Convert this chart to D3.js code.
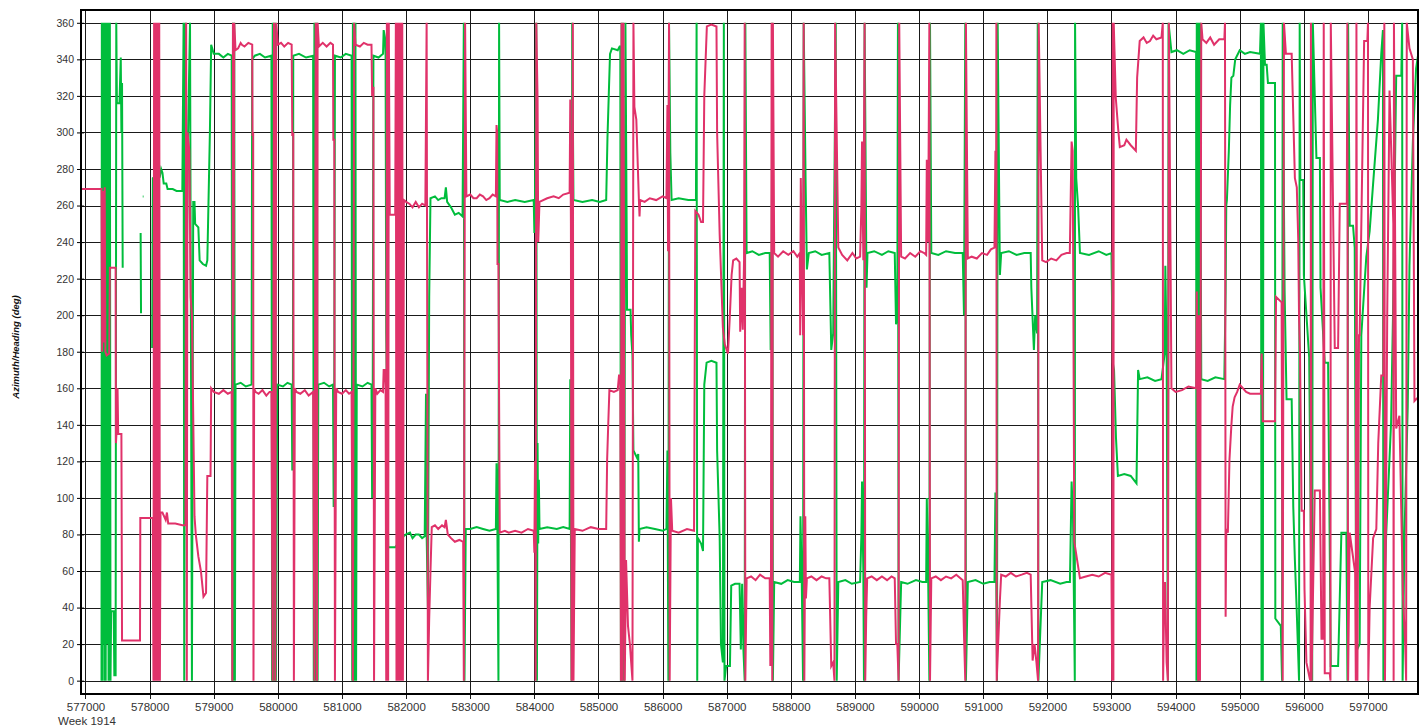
<!DOCTYPE html>
<html>
<head>
<meta charset="utf-8">
<script src="https://cdn.jsdelivr.net/npm/d3@7"></script>
<style>
  html, body { margin: 0; padding: 0; background: #ffffff; }
  svg { display: block; }
  text { font-family: "Liberation Sans", Arial, sans-serif; }
</style>
</head>
<body>
<svg id="chart" width="1426" height="728"></svg>
<script>
// ---------------- DATA ----------------
const xTicks = [577000,578000,579000,580000,581000,582000,583000,584000,585000,586000,587000,588000,589000,590000,591000,592000,593000,594000,595000,596000,597000];
const yTicks = [0,20,40,60,80,100,120,140,160,180,200,220,240,260,280,300,320,340,360];
const xLabelExtra = "Week 1914";
const yTitle = "Azimuth/Heading (deg)";

// Green series [time, deg]; null = no data
const greenSeries = [
[577250,0],[577255,360],[577265,0],[577270,360],[577280,20],[577290,360],[577300,0],[577310,360],[577315,0],[577330,360],[577340,20],[577350,360],[577360,0],[577370,40],[577380,360],[577390,0],[577400,38],[577440,38],[577450,3],[577470,3],[577480,360],[577490,316],[577530,316],[577550,341],[577560,300],[577570,327],[577580,226],
[577600,null],
[577860,245],[577866,201],[577870,null],
[577893,265],[577905,265],[577910,null],
[578040,182],[578050,275],[578120,277],[578160,276],[578180,280],[578200,278],[578220,272],[578260,272],[578280,269],[578360,269],[578420,268],[578510,268],
[578530,360],[578540,0],[578550,200],[578560,360],[578575,210],[578600,300],[578630,360],[578660,0],[578680,262],[578700,262],[578710,250],[578760,248],[578780,230],[578830,228],[578880,227],[578900,230],[578940,300],[578960,348],[579000,343],
[579080,343],[579150,341],[579220,343],[579280,342],[579290,0],[579300,360],[579310,0],[579320,360],[579330,0],[579340,162],[579420,163],[579500,161],[579590,162],[579600,340],[579640,342],
[579720,343],[579800,341],[579900,342],[579910,0],[579920,360],[579930,0],[579940,360],[579950,0],[579960,360],[579970,0],[579990,162],
[580080,161],[580150,163],[580215,162],[580225,115],[580235,162],[580240,342],[580330,343],[580440,341],[580550,342],
[580560,0],[580570,360],[580580,0],[580590,360],[580600,0],[580610,360],[580620,0],[580630,162],
[580720,163],[580800,161],[580860,162],[580870,95],[580880,162],[580890,342],[580980,341],[581060,343],[581150,342],
[581160,0],[581170,360],[581180,0],[581190,360],[581200,0],[581210,360],[581220,0],[581230,162],
[581320,161],[581400,163],[581460,162],[581470,100],[581480,162],[581490,342],[581570,341],[581640,343],[581650,356],[581670,352],[581680,342],[581690,190],[581700,160],[581720,73],[581830,73],
[581960,79],[582000,80],[582060,81],[582100,78],[582150,80],[582200,80],[582250,78],[582290,79],[582310,157],[582320,80],[582340,40],[582360,210],[582380,264],[582450,265],[582500,263],[582550,264],[582600,264],[582620,270],[582640,262],[582700,259],[582760,255],[582820,256],[582880,254],[582900,360],[582910,0],[582930,83],
[583000,83],[583100,84],[583200,83],[583300,82],[583400,83],[583410,119],[583420,100],[583440,0],[583450,360],[583460,263],
[583580,262],[583700,263],[583850,262],[583990,263],[584000,245],[584010,263],[584030,360],[584040,0],[584050,130],[584060,75],[584070,110],[584080,83],[584200,84],[584350,83],[584450,84],[584550,83],[584560,165],[584570,83],[584580,0],[584590,360],[584610,263],
[584750,262],[584900,263],[585020,262],[585120,263],[585140,297],[585160,320],[585180,343],[585210,346],[585300,345],[585330,347],[585340,347],[585350,0],[585360,360],[585370,0],[585380,360],[585400,0],[585420,360],[585440,244],[585445,203],[585500,203],[585510,189],[585530,178],[585545,126],[585600,122],[585620,124],[585630,76],[585640,83],
[585750,84],[585880,83],[586000,82],[586060,83],[586075,126],[586090,0],[586100,360],[586120,289],[586140,263],[586250,264],[586400,263],[586520,263],[586530,360],[586540,0],[586550,78],[586600,75],[586630,71],[586650,162],[586686,174],[586760,175],[586840,174],[586850,126],[586890,78],[586910,20],[586940,10],[586955,360],[586965,0],[586990,8],
[587050,8],[587070,52],[587130,53],[587200,53],[587220,17],[587240,53],[587260,17],[587280,0],[587290,360],[587310,234],
[587400,235],[587500,233],[587600,234],[587670,234],[587685,181],[587700,200],[587710,360],[587720,0],[587740,54],
[587850,53],[587950,55],[588050,54],[588140,54],[588150,90],[588170,54],[588190,0],[588200,360],[588230,273],[588250,225],[588280,234],
[588380,235],[588480,233],[588600,234],[588630,181],[588660,190],[588700,360],[588715,0],[588740,54],
[588850,55],[588950,53],[589080,54],[589100,80],[589110,109],[589130,60],[589140,0],[589150,360],[589180,215],[589195,234],
[589300,235],[589420,233],[589520,235],[589620,234],[589640,195],[589660,200],[589670,360],[589680,0],[589720,54],
[589820,53],[589950,55],[590050,54],[590110,54],[590120,100],[590140,60],[590160,0],[590170,360],[590190,234],
[590300,233],[590420,235],[590560,234],[590680,234],[590700,200],[590720,360],[590730,0],[590760,54],
[590880,55],[591000,53],[591100,54],[591175,54],[591190,103],[591200,70],[591215,0],[591225,360],[591260,222],[591280,234],
[591400,235],[591520,233],[591640,234],[591740,234],[591750,215],[591790,181],[591810,200],[591840,190],[591850,360],[591860,0],[591920,54],
[592050,55],[592200,53],[592300,54],[592352,54],[592378,109],[592400,90],[592428,0],[592432,360],[592450,275],[592480,259],[592508,234],
[592650,233],[592800,235],[592920,233],[593000,234],[593020,174],[593040,170],[593070,133],[593100,112],[593200,113],[593300,112],[593390,108],[593415,170],[593440,165],[593560,166],[593680,164],[593780,165],[593830,179],[593840,227],[593860,180],[593880,0],[593890,360],[593935,344],
[594020,345],[594120,343],[594220,345],[594320,344],[594325,0],[594330,360],[594335,0],[594340,360],[594345,0],[594350,360],[594360,0],[594380,360],[594400,165],[594500,164],[594620,166],[594760,165],[594780,213],[594790,260],[594800,263],[594830,290],[594850,315],[594870,330],[594900,331],[594930,340],[595000,345],
[595080,343],[595161,344],[595316,343],[595330,360],[595340,0],[595350,360],[595360,0],[595370,360],[595394,337],[595420,337],[595440,327],[595550,327],[595555,34],[595640,30],[595660,0],[595670,360],[595690,259],[595700,213],[595730,154],[595810,154],[595835,95],[595860,66],[595885,42],[595910,16],[595925,0],[595935,360],[595945,274],[595990,274],[596000,222],[596083,177],
[596130,0],[596140,360],[596196,286],[596250,286],[596260,215],[596326,174],[596378,174],[596420,8],[596534,8],[596585,81],[596663,81],[596680,0],[596690,360],[596715,249],[596767,249],[596793,237],[596818,16],[596870,20],[596896,189],[596948,218],[596974,232],[597026,246],[597078,271],[597155,307],[597207,343],[597233,356],[597240,0],[597260,54],[597285,81],[597360,141],[597390,200],[597440,331],[597520,331],[597533,360],[597540,0],[597570,81],[597620,150],[597647,227],[597700,295],[597750,335],[597780,342]
];

// Red series [time, deg]
const redSeries = [
[576930,269],[577250,269],[577260,180],[577270,268],[577280,185],[577300,270],[577310,180],[577330,178],[577370,179],[577380,226],[577470,226],[577475,130],[577490,140],[577500,160],[577510,135],[577560,135],[577570,22],[577850,22],[577855,89],[578050,89],
[578060,0],[578070,360],[578080,0],[578090,360],[578100,0],[578110,360],[578120,0],[578130,360],[578140,0],[578150,360],[578160,0],[578170,92],
[578200,92],[578250,88],[578270,92],[578290,86],[578400,86],[578510,85],
[578560,85],[578570,360],[578580,0],[578590,300],[578620,290],[578640,210],[578660,200],[578700,90],[578720,80],[578760,68],[578800,60],[578840,46],[578880,48],[578900,112],[578950,112],[578960,160],[579000,158],
[579080,157],[579150,159],[579220,157],[579280,158],[579290,0],[579300,360],[579310,200],[579320,360],[579340,345],[579380,346],[579420,349],[579440,348],[579480,347],[579540,349],[579600,348],[579605,298],[579615,300],[579620,0],[579630,160],[579650,158],
[579700,157],[579760,159],[579820,156],[579870,158],[579900,158],[579920,0],[579940,360],[579960,0],[579975,360],[580000,348],
[580050,349],[580100,347],[580160,349],[580215,348],[580225,298],[580240,300],[580250,0],[580265,160],[580290,158],[580350,157],[580420,159],[580480,156],[580550,158],
[580570,0],[580590,360],[580610,0],[580620,360],[580640,347],[580700,349],[580760,347],[580820,349],[580860,348],
[580865,296],[580880,296],[580890,0],[580910,160],[580940,158],[581000,157],[581060,159],[581110,157],[581150,158],
[581170,0],[581190,360],[581210,348],[581280,347],[581340,349],[581400,348],[581460,348],[581470,320],[581490,325],[581500,0],[581520,160],[581550,157],[581600,159],[581640,158],[581650,170],[581670,170],[581680,160],[581690,0],[581700,360],[581720,0],[581730,360],[581745,255],[581830,255],
[581840,360],[581850,0],[581860,360],[581870,0],[581880,360],[581890,0],[581900,360],[581910,0],[581920,360],[581930,0],[581940,360],[581950,0],[581965,263],
[582000,262],[582050,261],[582100,259],[582150,262],[582200,259],[582250,261],[582300,260],[582320,360],[582340,0],[582360,34],[582380,60],[582400,84],[582450,85],[582500,83],[582560,85],[582600,84],[582620,88],[582650,80],[582700,78],[582760,76],[582830,77],[582890,76],[582900,0],[582920,360],[582940,265],
[583000,266],[583050,264],[583100,264],[583150,266],[583200,265],[583250,263],[583300,264],[583350,266],[583400,265],[583410,304],[583420,300],[583425,228],[583440,228],[583460,81],
[583540,82],[583600,81],[583700,82],[583800,81],[583900,83],[583990,82],[584000,70],[584010,120],[584020,0],[584030,360],[584050,318],[584060,240],[584080,262],[584200,264],[584300,265],[584380,264],[584450,266],[584550,267],[584560,318],[584570,250],[584580,0],[584600,360],[584610,0],[584630,83],
[584750,82],[584880,84],[585000,83],[585120,83],[585135,121],[585150,138],[585170,159],[585240,158],[585300,159],[585320,167],[585340,167],[585350,0],[585360,360],[585375,0],[585390,360],[585410,0],[585430,66],[585460,30],[585490,20],[585530,0],[585545,360],[585560,314],[585590,307],[585630,263],[585640,254],[585650,263],
[585720,262],[585800,264],[585900,263],[586000,265],[586060,264],[586075,315],[586085,235],[586100,360],[586110,0],[586130,100],[586150,82],[586250,81],[586380,83],[586490,82],[586510,257],[586560,255],[586600,251],[586630,251],[586650,320],[586690,358],[586760,359],[586840,358],[586850,300],[586890,244],[586940,193],[586970,184],[587020,179],
[587050,201],[587076,222],[587100,230],[587150,231],[587200,229],[587210,191],[587230,215],[587250,192],[587270,230],[587280,360],[587290,0],[587310,56],
[587380,57],[587450,55],[587520,58],[587600,56],[587670,56],[587680,8],[587690,60],[587700,360],[587710,0],[587720,360],[587740,234],
[587800,232],[587880,235],[587960,233],[588040,235],[588100,232],[588140,234],[588145,189],[588155,275],[588170,230],[588190,189],[588200,360],[588210,0],[588225,90],[588235,45],[588250,56],
[588320,57],[588400,55],[588480,57],[588550,56],[588600,56],[588630,8],[588660,10],[588680,0],[588690,360],[588740,237],
[588800,233],[588880,230],[588960,234],[589020,231],[589080,232],[589100,260],[589110,295],[589130,230],[589150,360],[589160,0],[589175,35],[589190,56],
[589260,57],[589340,55],[589420,57],[589500,55],[589570,57],[589620,56],[589640,20],[589660,20],[589680,0],[589690,360],[589720,232],
[589780,231],[589860,234],[589940,232],[590020,235],[590080,234],[590110,233],[590120,285],[590140,240],[590160,360],[590170,0],[590190,56],
[590260,57],[590340,55],[590420,57],[590500,56],[590580,58],[590680,55],[590700,25],[590720,0],[590730,360],[590760,231],
[590820,232],[590900,231],[590980,234],[591060,233],[591120,236],[591175,237],[591190,290],[591200,250],[591205,360],[591210,0],[591260,44],[591280,58],
[591350,57],[591430,59],[591510,57],[591600,58],[591680,59],[591740,58],[591770,11],[591800,20],[591830,10],[591855,0],[591865,360],[591920,230],
[591980,229],[592060,231],[592140,230],[592220,233],[592300,234],[592350,234],[592378,295],[592395,290],[592404,220],[592420,76],[592508,56],
[592600,57],[592700,58],[592800,57],[592900,59],[593000,58],
[593010,0],[593020,360],[593030,0],[593035,360],[593067,319],[593104,302],[593130,292],[593200,293],[593233,296],[593300,293],[593380,290],[593400,330],[593440,350],[593500,352],[593550,349],[593600,350],[593650,353],[593700,351],[593780,352],
[593800,360],[593805,0],[593820,40],[593835,54],[593860,10],[593880,0],[593895,360],[593935,160],
[594000,158],[594100,159],[594200,161],[594320,160],[594330,213],[594340,160],[594350,0],[594360,200],[594380,0],[594400,360],[594420,351],[594480,349],[594540,352],[594600,348],[594680,351],[594760,351],[594770,360],[594780,35],[594790,83],[594815,81],[594840,121],[594870,140],[594890,150],[594920,155],[594960,158],[595000,162],[595100,158],[595161,157],
[595330,157],[595342,179],[595360,142],[595550,142],[595566,210],[595653,207],[595670,0],[595690,360],[595720,343],[595810,343],[595860,275],[595890,270],[595912,242],[595925,198],[595940,179],[595965,93],[596000,93],[596010,50],[596040,10],[596093,1],[596105,0],[596110,360],[596120,0],[596170,104],[596250,104],[596275,23],[596300,23],[596310,360],[596326,4],[596404,4],[596415,0],[596420,360],[596482,182],[596534,182],[596560,261],[596670,261],[596678,360],[596690,0],[596715,81],[596800,59],[596810,0],[596820,360],[596835,0],[596860,189],[596870,189],[596940,350],[596990,350],[597000,360],[597005,0],[597026,40],[597080,78],[597130,83],[597160,130],[597207,167],[597240,167],[597255,360],[597265,0],[597300,200],[597336,323],[597395,250],[597400,0],[597405,360],[597440,138],[597490,145],[597545,47],[597580,20],[597595,0],[597605,360],[597647,346],[597700,340],[597725,153],[597780,155]
];

// ---------------- LAYOUT ----------------
const frame = { left: 81, right: 1418, top: 10, bottom: 694 };
const svg = d3.select("#chart");

const x = d3.scaleLinear().domain([576930, 597780]).range([frame.left, frame.right]);
const y = d3.scaleLinear().domain([-7.3, 367]).range([frame.bottom, frame.top]);

svg.append("rect").attr("x",0).attr("y",0).attr("width",1426).attr("height",728).attr("fill","#ffffff");

svg.append("defs").append("clipPath").attr("id","plotclip")
  .append("rect").attr("x", frame.left).attr("y", frame.top)
  .attr("width", frame.right - frame.left).attr("height", frame.bottom - frame.top);

// gridlines
const grid = svg.append("g");
grid.selectAll("line.h").data(yTicks).join("line")
  .attr("x1", frame.left).attr("x2", frame.right)
  .attr("y1", d => Math.round(y(d)) + 0.5).attr("y2", d => Math.round(y(d)) + 0.5)
  .attr("stroke", "#1a1a1a").attr("stroke-width", 1);
grid.selectAll("line.v").data(xTicks).join("line")
  .attr("y1", frame.top).attr("y2", frame.bottom + 5)
  .attr("x1", d => Math.round(x(d)) + 0.5).attr("x2", d => Math.round(x(d)) + 0.5)
  .attr("stroke", "#1a1a1a").attr("stroke-width", 1);

// series
const line = d3.line()
  .defined(d => d[1] !== null)
  .x(d => x(d[0]))
  .y(d => y(d[1]));

const plot = svg.append("g").attr("clip-path", "url(#plotclip)");
plot.append("path").datum(greenSeries)
  .attr("d", line).attr("fill","none")
  .attr("stroke", "#00bd3c").attr("stroke-width", 2).attr("stroke-linejoin","miter");
plot.append("path").datum(redSeries)
  .attr("d", line).attr("fill","none")
  .attr("stroke", "#e0326a").attr("stroke-width", 2).attr("stroke-linejoin","miter");

// frame
svg.append("rect")
  .attr("x", frame.left).attr("y", frame.top)
  .attr("width", frame.right - frame.left).attr("height", frame.bottom - frame.top)
  .attr("fill", "none").attr("stroke", "#000").attr("stroke-width", 2);

// y axis (ticks crossing the frame + labels)
const yAxis = d3.axisLeft(y).tickValues(yTicks).tickSize(4).tickPadding(4).tickFormat(d3.format("d"));
const gy = svg.append("g").attr("transform", `translate(${frame.left + 3},0)`).call(yAxis);
gy.select(".domain").remove();
gy.selectAll(".tick line").attr("stroke", "#000").attr("x2", -7).attr("x1", 0);
gy.selectAll(".tick text").attr("x", -10)
  .attr("font-size", "10.5px").attr("fill", "#333")
  .attr("font-family", "'Liberation Sans', Arial, sans-serif");

// x axis labels
const xAxis = d3.axisBottom(x).tickValues(xTicks).tickSize(0).tickPadding(0).tickFormat(d3.format("d"));
const gx = svg.append("g").attr("transform", `translate(0,${frame.bottom})`).call(xAxis);
gx.select(".domain").remove();
gx.selectAll(".tick text").attr("y", 9)
  .attr("font-size", "11.5px").attr("fill", "#333")
  .attr("font-family", "'Liberation Sans', Arial, sans-serif");

svg.append("text").attr("x", 58).attr("y", 725)
  .attr("font-size", "11.5px").attr("fill", "#333").text(xLabelExtra);

// y title
svg.append("text")
  .attr("transform", "translate(19,347) rotate(-90)")
  .attr("text-anchor", "middle")
  .attr("font-size", "9.5px").attr("font-weight", "bold").attr("font-style", "italic")
  .attr("fill", "#111").text(yTitle);
</script>
</body>
</html>
